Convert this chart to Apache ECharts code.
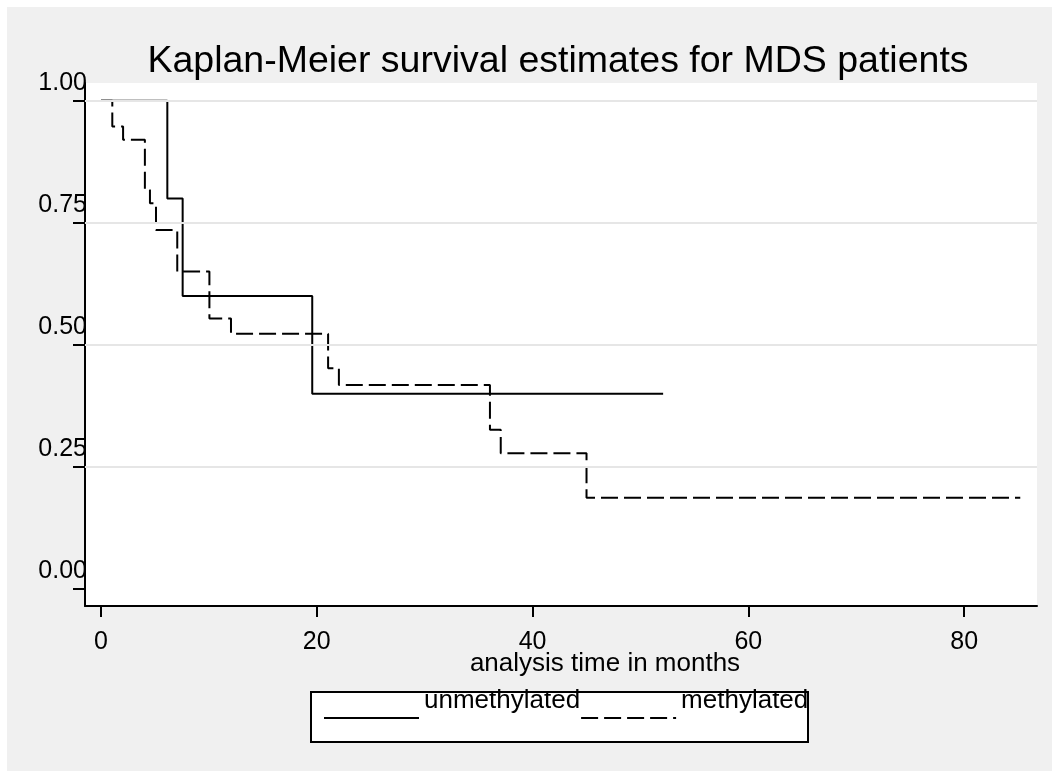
<!DOCTYPE html>
<html>
<head>
<meta charset="utf-8">
<script src="https://cdn.jsdelivr.net/npm/echarts@6/dist/echarts.min.js"></script>
<style>
html,body{margin:0;padding:0;background:#ffffff;}
#chart{width:1052px;height:771px;}
</style>
</head>
<body>
<div id="chart"></div>
<script>
// ---- data ----
var titleText = 'Kaplan-Meier survival estimates for MDS patients';
var xAxisTitle = 'analysis time in months';
var seriesNames = ['unmethylated', 'methylated'];

var unmethTime = [0, 6.15, 7.57, 19.58, 52.1];
var unmethSurv = [1.0, 0.80, 0.60, 0.40, 0.40];

var methTime = [0, 1.05, 2.05, 4.07, 4.54, 5.1, 7.07, 10.05, 12.05, 21.05, 22.05, 36.05, 37.05, 45.0, 85.2];
var methSurv = [1.0, 0.947, 0.92, 0.817, 0.79, 0.735, 0.65, 0.554, 0.523, 0.452, 0.418, 0.326, 0.278, 0.187, 0.187];

var xTicks = [0, 20, 40, 60, 80];
var yTicks = [0, 0.25, 0.5, 0.75, 1];
var yTickLabels = ['0.00', '0.25', '0.50', '0.75', '1.00'];
var yGridLines = [0.25, 0.5, 0.75, 1];

// ---- chart ----
function pairs(xs, ys) { return xs.map(function (x, i) { return [x, ys[i]]; }); }
var FONT = '"Liberation Sans", Arial, sans-serif';

var chart = echarts.init(document.getElementById('chart'), null, { renderer: 'canvas' });
var option = {
  backgroundColor: '#ffffff',
  animation: false,
  graphic: [
    { type: 'rect', z: -100, silent: true, shape: { x: 7, y: 7, width: 1045, height: 764 }, style: { fill: '#f0f0f0' } },
    { type: 'rect', z: 1, silent: true, shape: { x: 311, y: 692, width: 497, height: 50 }, style: { fill: '#ffffff', stroke: '#000000', lineWidth: 2 } }
  ],
  title: {
    text: titleText,
    left: 558,
    textAlign: 'center',
    top: 43,
    padding: 0,
    textStyle: { fontFamily: FONT, fontSize: 37.5, fontWeight: 'normal', color: '#000' }
  },
  grid: {
    left: 85, right: 15, top: 83, bottom: 165,
    show: true, backgroundColor: '#ffffff', borderWidth: 0,
    containLabel: false
  },
  legend: {
    left: 323, top: 687.5,
    z: 5,
    orient: 'horizontal',
    padding: 0,
    itemGap: 0,
    itemWidth: 95, itemHeight: 14,
    selectedMode: false,
    data: seriesNames,
    itemStyle: { color: 'rgba(0,0,0,0)', borderColor: 'rgba(0,0,0,0)', borderWidth: 0, opacity: 0 },
    formatter: '{t|{name}}',
    textStyle: {
      fontFamily: FONT, fontSize: 26, color: '#000',
      rich: { t: { fontFamily: FONT, fontSize: 26, color: '#000', lineHeight: 10, padding: [0, 0, 35, 0] } }
    }
  },
  xAxis: {
    type: 'value',
    min: -1.48, max: 86.75,
    name: xAxisTitle,
    nameLocation: 'middle',
    nameGap: 45,
    nameMoveOverlap: false,
    nameTextStyle: { fontFamily: FONT, fontSize: 26, color: '#000', padding: [0, 0, 0, 88] },
    axisLine: { show: true, onZero: false, lineStyle: { color: '#000', width: 2 } },
    axisTick: { show: true, inside: false, length: 11, customValues: xTicks, lineStyle: { color: '#000', width: 2 } },
    axisLabel: { customValues: xTicks, margin: 24, fontFamily: FONT, fontSize: 25, color: '#000' },
    splitLine: { show: false }
  },
  yAxis: {
    type: 'value',
    min: -0.0348, max: 1.0363,
    axisLine: { show: true, onZero: false, lineStyle: { color: '#000', width: 2 } },
    axisTick: { show: true, inside: false, length: 12, customValues: yTicks, lineStyle: { color: '#000', width: 2 } },
    axisLabel: {
      customValues: yTicks,
      formatter: function (v) { var i = yTicks.indexOf(v); return i >= 0 ? yTickLabels[i] : ''; },
      margin: -2, align: 'right', verticalAlign: 'bottom', lineHeight: 25, padding: [0, 0, 5, 0],
      fontFamily: FONT, fontSize: 25, color: '#000'
    },
    splitLine: { show: false }
  },
  series: [
    {
      name: 'grid',
      type: 'line',
      data: [],
      z: 1,
      silent: true,
      markLine: {
        silent: true,
        symbol: ['none', 'none'],
        label: { show: false },
        lineStyle: { color: '#e6e6e6', width: 2, type: 'solid' },
        data: yGridLines.map(function (v) { return { yAxis: v }; })
      }
    },
    {
      name: seriesNames[0],
      type: 'line',
      step: 'end',
      z: 3,
      symbol: 'none',
      color: '#000',
      lineStyle: { color: '#000', width: 2, type: 'solid' },
      data: pairs(unmethTime, unmethSurv)
    },
    {
      name: seriesNames[1],
      type: 'line',
      step: 'end',
      z: 4,
      symbol: 'none',
      color: '#000',
      lineStyle: { color: '#000', width: 2, type: [17, 6] },
      data: pairs(methTime, methSurv)
    }
  ]
};
chart.setOption(option);
</script>
</body>
</html>
